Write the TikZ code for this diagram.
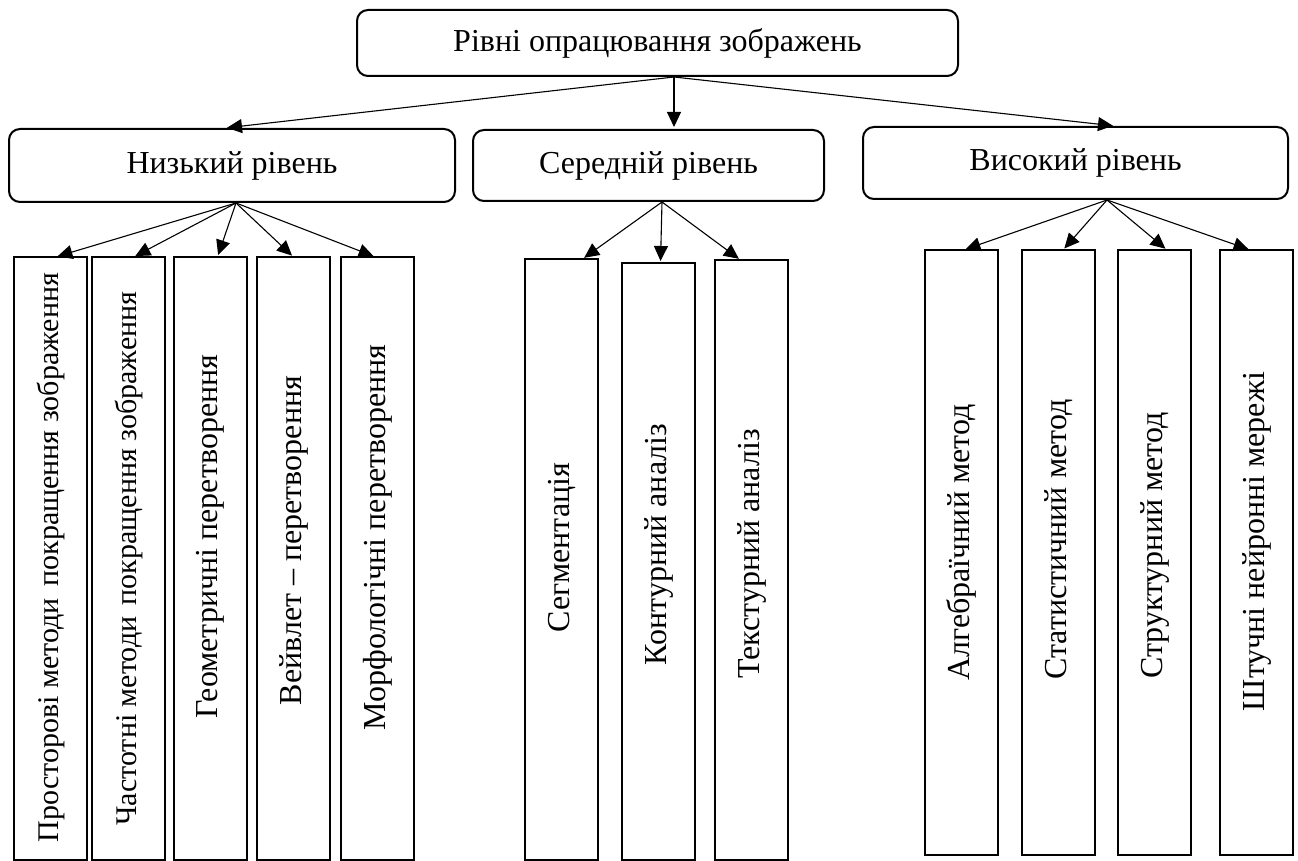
\documentclass[tikz,border=0pt]{standalone}
\usepackage{fontspec}
\setmainfont{Liberation Serif}
\usepackage{graphicx}
\usetikzlibrary{arrows.meta,positioning}
% rotated label, lifted by half of #1
\newcommand{\vlabel}[2]{\rotatebox{90}{\hspace*{#1}#2}}

\begin{document}
\begin{tikzpicture}[
  x=1pt, y=-1pt,
  lvl/.style={rectangle,rounded corners=11pt,draw,line width=2pt,
              font=\fontsize{32}{38}\selectfont,inner sep=0pt},
  vbox/.style={rectangle,draw,line width=2pt,inner sep=0pt,outer sep=0pt,
               minimum width=73pt,font=\fontsize{32}{38}\selectfont},
  ar/.style={-{Triangle[length=15pt,width=14pt]},line width=1.1pt,
             shorten >=2pt},
]
  \useasboundingbox (0,0) rectangle (1298,861);

  % levels
  \node[lvl,minimum width=601pt,minimum height=66pt] (top) at (657.5,43)
    {Рівні опрацювання зображень};
  \node[lvl,minimum width=446pt,minimum height=73pt] (low) at (232,165.5)
    {Низький рівень};
  \node[lvl,minimum width=351pt,minimum height=71pt] (mid) at (648.5,165.5)
    {Середній рівень};
  \node[lvl,minimum width=425pt,minimum height=72pt] (high) at (1075.5,163)
    {Високий рівень};

  % low level methods
  \node[vbox,minimum height=603pt,anchor=north west,
        font=\fontsize{30}{36}\selectfont] (low1) at (14,257)
    {\vlabel{2pt}{Просторові методи\hspace{4pt} покращення зображення}};
  \node[vbox,minimum height=603pt,right=5pt of low1,
        font=\fontsize{30}{36}\selectfont] (low2)
    {\vlabel{0pt}{Частотні методи\hspace{4pt} покращення зображення}};
  \node[vbox,minimum height=603pt,right=9pt of low2] (low3)
    {\vlabel{44pt}{Геометричні перетворення}};
  \node[vbox,minimum height=603pt,right=10pt of low3] (low4)
    {\vlabel{36pt}{Вейвлет – перетворення}};
  \node[vbox,minimum height=603pt,right=11pt of low4] (low5)
    {\vlabel{42pt}{Морфологічні перетворення}};

  % middle level methods
  \node[vbox,minimum height=601pt,anchor=north west] (mid1) at (525,259)
    {\vlabel{24pt}{Сегментація}};
  \node[vbox,minimum height=597pt,anchor=north west] (mid2) at (622,263)
    {\vlabel{34pt}{Контурний аналіз}};
  \node[vbox,minimum height=600pt,anchor=north west] (mid3) at (715,260)
    {\vlabel{12pt}{Текстурний аналіз}};

  % high level methods
  \node[vbox,minimum height=605pt,anchor=north west] (high1) at (925,250)
    {\vlabel{20pt}{Алгебраїчний метод}};
  \node[vbox,minimum height=605pt,right=24pt of high1] (high2)
    {\vlabel{26pt}{Статистичний метод}};
  \node[vbox,minimum height=605pt,right=23pt of high2] (high3)
    {\vlabel{14pt}{Структурний метод}};
  \node[vbox,minimum height=605pt,right=29pt of high3] (high4)
    {\vlabel{22pt}{Штучні нейронні мережі}};

  % arrows
  \coordinate (top0) at ([xshift=16.5pt]top.south);
  \draw[ar] (top0) -- ([xshift=-7pt]low.north);
  \draw[ar] (top0) -- (top0 |- mid.north);
  \draw[ar] (top0) -- ([xshift=39.5pt]high.north);

  \coordinate (low0) at ([xshift=4pt]low.south);
  \foreach \n/\s in {low1/5,low2/5,low3/7,low4/0,low5/-2}
    \draw[ar] (low0) -- ([xshift=\s pt]\n.north);

  \coordinate (mid0) at ([xshift=13.5pt]mid.south);
  \foreach \n/\s in {mid1/21,mid2/2,mid3/-11}
    \draw[ar] (mid0) -- ([xshift=\s pt]\n.north);

  \coordinate (high0) at ([xshift=31.5pt]high.south);
  \foreach \n/\s in {high1/2,high2/4.5,high3/12.5,high4/-6}
    \draw[ar] (high0) -- ([xshift=\s pt]\n.north);
\end{tikzpicture}
\end{document}
